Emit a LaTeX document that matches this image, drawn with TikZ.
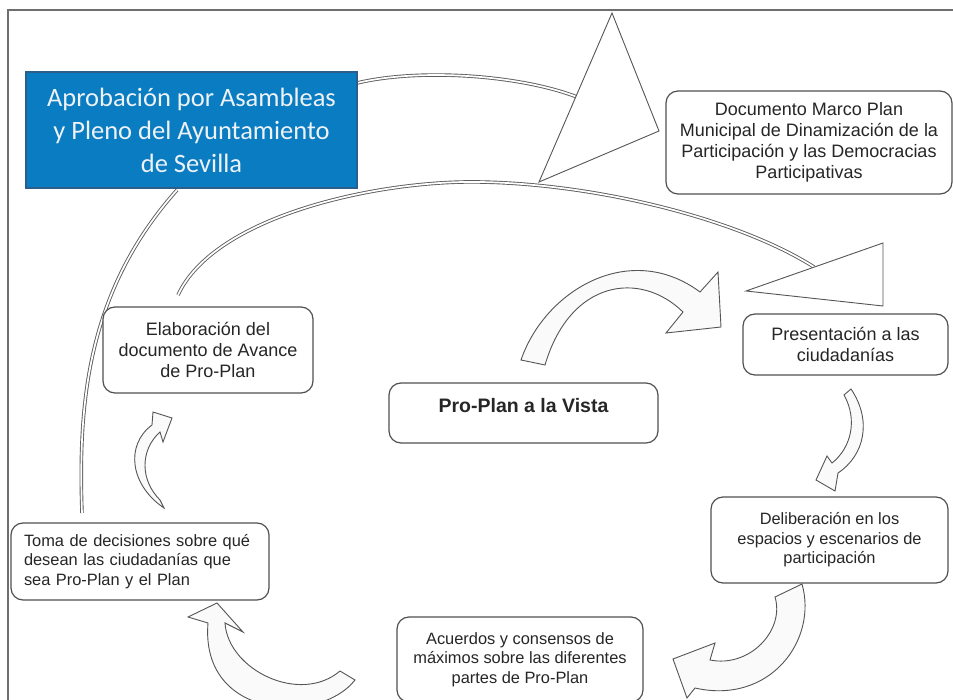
\documentclass[tikz,border=0pt]{standalone}
\usepackage{fontspec}
\setmainfont{Liberation Sans}
\newfontfamily\carlito{Carlito}
\definecolor{framegray}{HTML}{6E6E6E}
\definecolor{boxgray}{HTML}{505050}
\definecolor{shapegray}{HTML}{555555}
\definecolor{linkgray}{HTML}{5E5E5E}
\definecolor{councilblue}{HTML}{0A7CC1}
\definecolor{counciledge}{HTML}{2B5E8A}
\definecolor{councilText}{HTML}{EEF2F6}
\begin{document}
\begin{tikzpicture}[x=1pt,y=-1pt,
  stagebox/.style={draw=boxgray, line width=1.2pt, rounded corners=12pt,
    fill=white, inner sep=0pt, align=center, text=black!85},
  councilbox/.style={draw=counciledge, line width=1.2pt, fill=councilblue,
    inner sep=0pt, align=center, text=councilText,
    font=\carlito\fontsize{26.5}{33}\selectfont},
  link/.style={draw=linkgray, double=white, double distance=1.7pt, line width=0.9pt},
  headtri/.style={draw=shapegray, line width=0.9pt, fill=white, line join=miter},
  blockarrow/.style={draw=shapegray, line width=0.9pt, fill=white!98!black, line join=miter},
  txt18/.style={font=\fontsize{18}{21}\selectfont},
  txt16/.style={font=\fontsize{16.4}{19.5}\selectfont}
]
\clip (0,0) rectangle (953,700);
\fill[white] (0,0) rectangle (953,700);

% outer frame
\draw[framegray, line width=2pt] (8,705) -- (8,10) -- (958,10);

% free ends of the thin double connectors
\coordinate (c1s) at (357,83);
\coordinate (c1e) at (577,97);
\coordinate (c2s) at (178,295);
\coordinate (c2e) at (814,267);
\coordinate (c3s) at (82,513);
\coordinate (c3e) at (177,190);

% thin double connectors
\draw[link] (c1s) .. controls (420,68) and (520,75) .. (c1e);
\draw[link] (c2s) .. controls (215,215) and (380,180) .. (480,182)
                  .. controls (600,184) and (740,220) .. (c2e);
\draw[link] (c3s) .. controls (78,400) and (88,290) .. (c3e);

% large triangular heads
\draw[headtri] (612,13) -- (659,131) -- (539,182) -- cycle;
\draw[headtri] (746,291) -- (883,243) -- (883,306) -- cycle;

% curved block arrows of the cycle
\draw[blockarrow] (521,360) .. controls (545,290) and (630,240) .. (700,292)
  -- (718,272) -- (721,327) -- (666,333) -- (683,312)
  .. controls (640,270) and (570,280) .. (545,365) -- cycle;
\draw[blockarrow] (844,395) -- (851,389) .. controls (872,420) and (865,455) .. (838,473)
  -- (835,491) -- (816,480) -- (827,456) -- (832,463)
  .. controls (851,448) and (858,420) .. (844,395) -- cycle;
\draw[blockarrow] (775,597) -- (802,584) .. controls (818,640) and (770,705) .. (695,688)
  -- (687,698) -- (673,659) -- (715,643) -- (710,660)
  .. controls (750,668) and (785,630) .. (775,597) -- cycle;
\draw[blockarrow] (340,671) -- (355,680) .. controls (320,725) and (200,720) .. (208,623)
  -- (188,617) -- (217,603) -- (243,632) -- (225,623)
  .. controls (228,670) and (300,705) .. (340,671);
\draw[blockarrow] (160,500) -- (164,508) .. controls (130,485) and (125,445) .. (152,425)
  -- (153,412) -- (172,418) -- (163,442) -- (160,432)
  .. controls (140,450) and (140,480) .. (160,500) -- cycle;

% boxes
\node[councilbox, minimum width=331pt, minimum height=116pt] (aprob) at (191.5,130)
  {Aprobación por Asambleas\\y Pleno del Ayuntamiento\\de Sevilla};
\node[stagebox, txt18, minimum width=286pt, minimum height=103pt] (marco) at (809,142.5)
  {Documento Marco Plan\\Municipal de Dinamización de la\\Participación y las Democracias\\Participativas};
\node[stagebox, txt18, minimum width=210pt, minimum height=86pt] (elab) at (208,350)
  {Elaboración del\\documento de Avance\\de Pro-Plan};
\node[stagebox, font=\bfseries\fontsize{19.5}{22}\selectfont, minimum width=269pt,
  text height=29pt, text depth=31pt] (vista) at (523.5,413) {Pro-Plan a la Vista};
\node[stagebox, txt18, minimum width=205pt, minimum height=61pt] (pres) at (845.5,344.5)
  {Presentación a las\\ciudadanías};
\node[stagebox, txt16, minimum width=237pt, minimum height=86pt] (delib) at (829.5,540)
  {Deliberación en los\\espacios y escenarios de\\participación};
\node[stagebox, txt16, minimum width=246pt, minimum height=85pt] (acuer) at (520,659.5)
  {Acuerdos y consensos de\\máximos sobre las diferentes\\partes de Pro-Plan};
\node[stagebox, txt16, align=left, text width=232pt, minimum width=258pt,
  minimum height=77pt] (toma) at (140,561.5)
  {Toma de decisiones sobre qué\\desean las ciudadanías que\\sea Pro-Plan y el Plan};
\end{tikzpicture}
\end{document}
